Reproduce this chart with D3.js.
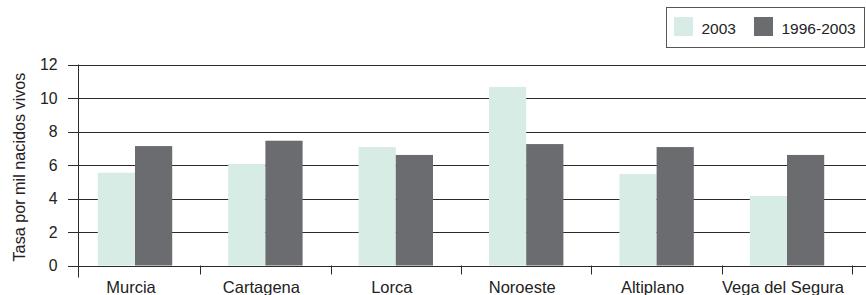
<!DOCTYPE html>
<html>
<head>
<meta charset="utf-8">
<script src="https://cdn.jsdelivr.net/npm/d3@7"></script>
<style>
  body { margin: 0; background: #fff; }
  svg { display: block; font-family: "Liberation Sans", Arial, sans-serif; }
</style>
</head>
<body>
<div id="chart"></div>
<script>
// data
var categories = ["Murcia", "Cartagena", "Lorca", "Noroeste", "Altiplano", "Vega del Segura"];
var seriesNames = ["2003", "1996-2003"];
var values2003 = [5.54, 6.06, 7.07, 10.66, 5.46, 4.15];
var values9603 = [7.13, 7.45, 6.6, 7.25, 7.07, 6.6];
var yTicks = [0, 2, 4, 6, 8, 10, 12];
var colors = ["#d6ece4", "#6b6c70"];

var svgWidth = 866;
var svgHeight = 295;

var svg = d3.select("#chart")
  .append("svg")
  .attr("width", svgWidth)
  .attr("height", svgHeight);

// scales
var yScale = d3.scaleLinear()
  .domain([0, 12])
  .range([265.5, 64.5]);

var x0 = d3.scaleBand()
  .domain(categories)
  .range([69.8, 852.2]);

var bw = x0.bandwidth();
var x1 = d3.scaleBand()
  .domain(seriesNames)
  .range([bw / 2 - 37.2, bw / 2 + 37.2]);

var axisX = 78;

// gridlines + y ticks
var grid = svg.append("g");
grid.selectAll("line")
  .data(yTicks)
  .enter()
  .append("line")
  .attr("x1", 68)
  .attr("x2", svgWidth)
  .attr("y1", d => Math.round(yScale(d)) + 0.5)
  .attr("y2", d => Math.round(yScale(d)) + 0.5)
  .attr("stroke", "#2b2b2b")
  .attr("stroke-width", 1);

grid.selectAll("text")
  .data(yTicks)
  .enter()
  .append("text")
  .attr("x", 57.5)
  .attr("y", d => yScale(d) + 5.8)
  .attr("text-anchor", "end")
  .attr("font-size", 15.8)
  .attr("fill", "#222")
  .text(d => d);

// bars
var rows = categories.map((c, i) => ({ cat: c, vals: [values2003[i], values9603[i]] }));

var groups = svg.selectAll("g.cat")
  .data(rows)
  .enter()
  .append("g")
  .classed("cat", true)
  .attr("transform", d => `translate(${x0(d.cat)},0)`);

groups.selectAll("rect")
  .data(d => d.vals.map((v, j) => ({ key: seriesNames[j], v: v, j: j })))
  .enter()
  .append("rect")
  .attr("x", d => x1(d.key))
  .attr("width", x1.bandwidth())
  .attr("y", d => yScale(d.v))
  .attr("height", d => yScale(0) - yScale(d.v))
  .attr("fill", d => colors[d.j]);

// y axis line
svg.append("line")
  .attr("x1", axisX + 0.5)
  .attr("x2", axisX + 0.5)
  .attr("y1", 64.5)
  .attr("y2", 277.5)
  .attr("stroke", "#2b2b2b");

// x ticks at category boundaries
svg.append("g")
  .selectAll("line")
  .data(categories)
  .enter()
  .append("line")
  .attr("x1", d => Math.round(x0(d) + bw) + 0.5)
  .attr("x2", d => Math.round(x0(d) + bw) + 0.5)
  .attr("y1", 265.5)
  .attr("y2", 274.5)
  .attr("stroke", "#2b2b2b");

// category labels
svg.append("g")
  .selectAll("text")
  .data(categories)
  .enter()
  .append("text")
  .attr("x", d => x0(d) + bw / 2 - 4)
  .attr("y", 292.5)
  .attr("text-anchor", "middle")
  .attr("font-size", 16.5)
  .attr("fill", "#222")
  .text(d => d);

// y title
svg.append("text")
  .attr("transform", "translate(25,167) rotate(-90)")
  .attr("text-anchor", "middle")
  .attr("font-size", 16.2)
  .attr("fill", "#222")
  .text("Tasa por mil nacidos vivos");

// legend
var legend = svg.append("g");
legend.append("rect")
  .attr("x", 666.5)
  .attr("y", 7.5)
  .attr("width", 198)
  .attr("height", 40)
  .attr("fill", "none")
  .attr("stroke", "#555");

var legendX = [674, 754];
var legendTextX = [701.5, 781.5];
seriesNames.forEach((s, i) => {
  legend.append("rect")
    .attr("x", legendX[i])
    .attr("y", 17)
    .attr("width", 19)
    .attr("height", 19)
    .attr("fill", colors[i]);
  legend.append("text")
    .attr("x", legendTextX[i])
    .attr("y", 33.5)
    .attr("font-size", 15.5)
    .attr("fill", "#222")
    .text(s);
});
</script>
</body>
</html>
